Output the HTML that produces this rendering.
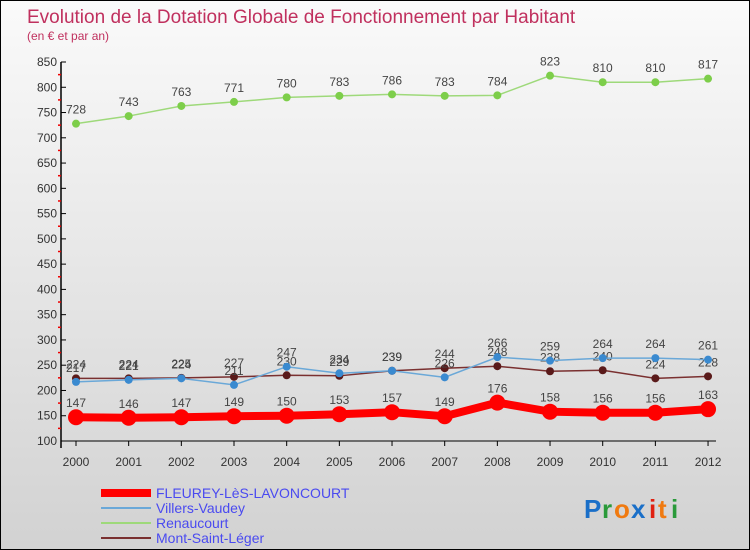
<!DOCTYPE html>
<html><head><meta charset="utf-8">
<style>
html,body{margin:0;padding:0}
body{width:750px;height:550px;overflow:hidden;font-family:"Liberation Sans",sans-serif}
#wrap{position:relative;width:748px;height:548px;border:1px solid #000;background:linear-gradient(#fafafa,#d2d2d2)}
</style></head>
<body>
<div id="wrap">
<svg id="chart" width="748" height="548" style="position:absolute;left:0;top:0">
<text x="26" y="22" font-size="19" fill="#c0305e">Evolution de la Dotation Globale de Fonctionnement par Habitant</text>
<text x="26" y="39" font-size="12" fill="#c0305e">(en € et par an)</text>
<g id="axes"></g>
<g id="series"></g>
<g id="legend"></g>
<g font-size="26" font-weight="bold" font-family="'Liberation Sans',sans-serif">
<text x="583" y="517" fill="#1a6fc8">P</text><text x="601" y="517" fill="#2a9a3a">r</text><text x="613" y="517" fill="#f07a10">o</text><text x="630" y="517" fill="#1a6fc8">x</text><text x="648" y="517" fill="#e02010">i</text><text x="657" y="517" fill="#f07a10">t</text><text x="670" y="517" fill="#2a9a3a">i</text>
</g>
</svg>
</div>
<script>
const years=[2000,2001,2002,2003,2004,2005,2006,2007,2008,2009,2010,2011,2012];
const fleurey=[147,146,147,149,150,153,157,149,176,158,156,156,163];
const villers=[217,221,224,211,247,234,239,226,266,259,264,264,261];
const renaucourt=[728,743,763,771,780,783,786,783,784,823,810,810,817];
const montSaintLeger=[224,224,225,227,230,229,239,244,248,238,240,224,228];
const yTicks=[100,150,200,250,300,350,400,450,500,550,600,650,700,750,800,850];
const NS="http://www.w3.org/2000/svg";
function x(i){return 75+i*52.67;}
function y(v){return 440-(v-100)*(379/750);}
function mk(tag,attrs,parent){const e=document.createElementNS(NS,tag);for(const k in attrs)e.setAttribute(k,attrs[k]);parent.appendChild(e);return e;}
const axes=document.getElementById('axes');
let a=mk('line',{x1:60,y1:y(850),x2:60,y2:447,stroke:'#000','stroke-width':1.5},axes);


a=mk('line',{x1:60,y1:y(100),x2:715,y2:y(100),stroke:'#000','stroke-width':1},axes);


yTicks.forEach((v,i)=>{
  mk('line',{x1:60,y1:y(v),x2:65,y2:y(v),stroke:'#000'},axes);
  const t=mk('text',{x:56,y:y(v)+4,'text-anchor':'end','font-size':12,fill:'#333'},axes);
  t.textContent=v;
  
  
  if(i<yTicks.length-1){mk('line',{x1:57,y1:y(v+25),x2:60,y2:y(v+25),stroke:'#e00','stroke-width':1.5},axes);}
});
years.forEach((yr,i)=>{
  mk('line',{x1:x(i),y1:y(100),x2:x(i),y2:y(100)+5,stroke:'#000'},axes);
  const t=mk('text',{x:x(i),y:465,'text-anchor':'middle','font-size':12,fill:'#333'},axes);
  t.textContent=yr;
  
  
});
const ser=document.getElementById('series');
function draw(data,name,color,lw,r,dot){
  const g=mk('g',{},ser);
  
  
  const l=mk('polyline',{points:data.map((v,i)=>x(i)+','+y(v)).join(' '),fill:'none',stroke:color,'stroke-width':lw},g);
  
  
  data.forEach((v,i)=>{
    const c=mk('circle',{cx:x(i),cy:y(v),r:r,fill:dot},g);
    
    
    const t=mk('text',{x:x(i),y:y(v)-10,'text-anchor':'middle','font-size':12,fill:'#444'},g);
    t.textContent=v;
    
    
  });
}
draw(renaucourt,'renaucourt','#9ed97a',1.5,4,'#7dce4a');
draw(montSaintLeger,'mont-saint-leger','#7a3030',1.5,4,'#5a1a1a');
draw(villers,'villers-vaudey','#6aa8d8',1.5,4,'#3a8ad0');
draw(fleurey,'fleurey','#f00',8,8,'#f00');
const leg=document.getElementById('legend');
const items=[['FLEUREY-LèS-LAVONCOURT','#f00',8],['Villers-Vaudey','#6aa8d8',2],['Renaucourt','#9ed97a',2],['Mont-Saint-Léger','#7a3030',2]];
items.forEach((it,i)=>{
  const g=mk('g',{},leg);
  
  
  const yy=492+i*15;
  mk('line',{x1:100,y1:yy,x2:150,y2:yy,stroke:it[1],'stroke-width':it[2]},g);
  const t=mk('text',{x:155,y:yy+5,'font-size':14,fill:'#4a4af0'},g);
  t.textContent=it[0];
});
</script>
</body></html>
